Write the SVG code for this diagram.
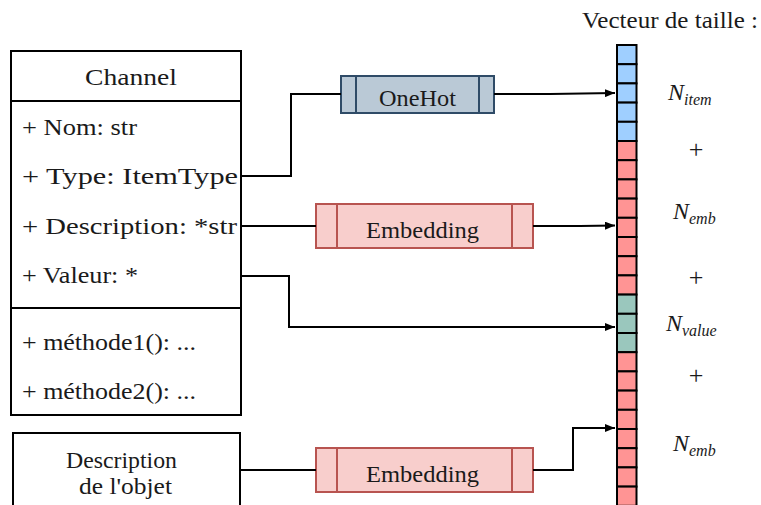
<svg xmlns="http://www.w3.org/2000/svg" width="761" height="505" viewBox="0 0 761 505">
<defs>
<marker id="arr" markerWidth="10" markerHeight="8" refX="10" refY="4" orient="auto" markerUnits="userSpaceOnUse">
<path d="M0,0 L10,4 L0,8 Z" fill="#000"/>
</marker>
</defs>
<style>
text{font-family:"Liberation Serif","DejaVu Serif",serif;font-size:22.5px;fill:#1a1a1a}
.box{fill:#fff;stroke:#000;stroke-width:2}
.ln{fill:none;stroke:#000;stroke-width:2}
.oh{fill:#bac9d6;stroke:#2f4b67;stroke-width:2}
.emb{fill:#f8cecc;stroke:#b85450;stroke-width:2}
.cb{fill:#9fcfff;stroke:#000;stroke-width:2}
.cr{fill:#ff9494;stroke:#000;stroke-width:2}
.cg{fill:#9ac7bd;stroke:#000;stroke-width:2}
.m{font-style:italic;font-size:24px}
.s{font-size:16px}
.p{font-size:26px;text-anchor:middle}
</style>

<g id="channel">
<rect class="box" x="11" y="51" width="230" height="364"/>
<line class="ln" x1="11" y1="101" x2="241" y2="101"/>
<line class="ln" x1="11" y1="308" x2="241" y2="308"/>
<text x="85" y="85" textLength="92" lengthAdjust="spacingAndGlyphs">Channel</text>
<text x="22" y="135" textLength="115" lengthAdjust="spacingAndGlyphs">+ Nom: str</text>
<text x="22" y="184" textLength="216" lengthAdjust="spacingAndGlyphs">+ Type: ItemType</text>
<text x="22" y="234" textLength="215" lengthAdjust="spacingAndGlyphs">+ Description: *str</text>
<text x="22" y="283" textLength="116" lengthAdjust="spacingAndGlyphs">+ Valeur: *</text>
<text x="22" y="350" textLength="174" lengthAdjust="spacingAndGlyphs">+ méthode1(): ...</text>
<text x="22" y="399" textLength="174" lengthAdjust="spacingAndGlyphs">+ méthode2(): ...</text>
</g>

<g id="description-objet">
<rect class="box" x="13" y="433" width="227" height="80"/>
<text x="66" y="468" textLength="111" lengthAdjust="spacingAndGlyphs">Description</text>
<text x="79" y="494" textLength="93" lengthAdjust="spacingAndGlyphs">de l'objet</text>
</g>

<g id="onehot">
<rect class="oh" x="341" y="76" width="153" height="37"/>
<line class="oh" x1="356" y1="76" x2="356" y2="113"/>
<line class="oh" x1="479" y1="76" x2="479" y2="113"/>
<text x="379" y="106" textLength="77" lengthAdjust="spacingAndGlyphs">OneHot</text>
</g>

<g id="embedding1">
<rect class="emb" x="316" y="204" width="217" height="44"/>
<line class="emb" x1="337" y1="204" x2="337" y2="248"/>
<line class="emb" x1="512" y1="204" x2="512" y2="248"/>
<text x="366" y="238" textLength="113" lengthAdjust="spacingAndGlyphs">Embedding</text>
</g>

<g id="embedding2">
<rect class="emb" x="316" y="448" width="217" height="44"/>
<line class="emb" x1="337" y1="448" x2="337" y2="492"/>
<line class="emb" x1="512" y1="448" x2="512" y2="492"/>
<text x="366" y="482" textLength="113" lengthAdjust="spacingAndGlyphs">Embedding</text>
</g>

<g id="vecteur">
<rect class="cb" x="617" y="45" width="19.5" height="19.2"/>
<rect class="cb" x="617" y="64.2" width="19.5" height="19.2"/>
<rect class="cb" x="617" y="83.4" width="19.5" height="19.2"/>
<rect class="cb" x="617" y="102.6" width="19.5" height="19.2"/>
<rect class="cb" x="617" y="121.8" width="19.5" height="19.2"/>
<rect class="cr" x="617" y="141" width="19.5" height="19.2"/>
<rect class="cr" x="617" y="160.2" width="19.5" height="19.2"/>
<rect class="cr" x="617" y="179.4" width="19.5" height="19.2"/>
<rect class="cr" x="617" y="198.6" width="19.5" height="19.2"/>
<rect class="cr" x="617" y="217.8" width="19.5" height="19.2"/>
<rect class="cr" x="617" y="237" width="19.5" height="19.2"/>
<rect class="cr" x="617" y="256.2" width="19.5" height="19.2"/>
<rect class="cr" x="617" y="275.4" width="19.5" height="19.2"/>
<rect class="cg" x="617" y="294.6" width="19.5" height="19.2"/>
<rect class="cg" x="617" y="313.8" width="19.5" height="19.2"/>
<rect class="cg" x="617" y="333" width="19.5" height="19.2"/>
<rect class="cr" x="617" y="352.2" width="19.5" height="19.2"/>
<rect class="cr" x="617" y="371.4" width="19.5" height="19.2"/>
<rect class="cr" x="617" y="390.6" width="19.5" height="19.2"/>
<rect class="cr" x="617" y="409.8" width="19.5" height="19.2"/>
<rect class="cr" x="617" y="429" width="19.5" height="19.2"/>
<rect class="cr" x="617" y="448.2" width="19.5" height="19.2"/>
<rect class="cr" x="617" y="467.4" width="19.5" height="19.2"/>
<rect class="cr" x="617" y="486.6" width="19.5" height="19.2"/>
</g>

<g id="labels">
<text x="582" y="28" textLength="176" lengthAdjust="spacingAndGlyphs">Vecteur de taille :</text>
<text x="668" y="100" class="m">N<tspan class="s" dy="5">item</tspan></text>
<text class="p" x="696" y="158">+</text>
<text x="673" y="219" class="m">N<tspan class="s" dy="5">emb</tspan></text>
<text class="p" x="696" y="286">+</text>
<text x="666" y="331" class="m">N<tspan class="s" dy="5">value</tspan></text>
<text class="p" x="696" y="384">+</text>
<text x="673" y="451" class="m">N<tspan class="s" dy="5">emb</tspan></text>
</g>

<g id="connectors">
<polyline class="ln" points="241,176 291,176 291,94 341,94"/>
<polyline class="ln" points="494,94 550,94 615,93" marker-end="url(#arr)"/>
<line class="ln" x1="241" y1="226" x2="316" y2="226"/>
<polyline class="ln" points="533,226 580,226 615,225.5" marker-end="url(#arr)"/>
<polyline class="ln" points="241,276 289,276 289,327 615,327" marker-end="url(#arr)"/>
<line class="ln" x1="240" y1="470" x2="316" y2="470"/>
<polyline class="ln" points="533,470 573,470 573,428 615,428" marker-end="url(#arr)"/>
</g>
</svg>
